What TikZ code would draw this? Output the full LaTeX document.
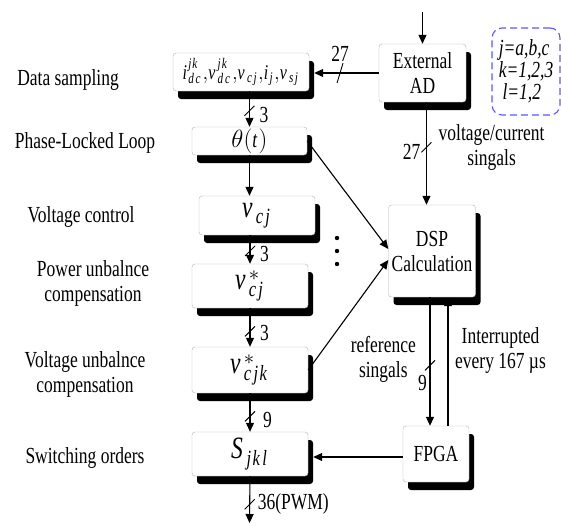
\documentclass[tikz,border=0pt]{standalone}
\usepackage{fontspec}
\setmainfont{Liberation Serif}[FakeStretch=0.76]
\usetikzlibrary{arrows.meta,positioning,calc,shadows}
\tikzset{
  blk/.style={draw=gray!60,fill=white,rectangle,rounded corners=3pt,thin,align=center,inner sep=0pt,
    font=\fontsize{23}{25}\selectfont,
    drop shadow={shadow xshift=5pt,shadow yshift=-8pt,fill=black,opacity=1}},
  bigm/.style={font=\fontsize{31}{34}\selectfont},
  lbl/.style={font=\fontsize{23}{25}\selectfont,align=center,inner sep=0pt},
  num/.style={font=\fontsize{23}{25}\selectfont,inner sep=1pt},
  arr/.style={-{Triangle[length=9pt,width=8pt]},line width=1.1pt},
  cutln/.style={line width=0.9pt},
  legendbox/.style={draw=blue!65,dash pattern=on 7pt off 4pt,rounded corners=10pt,line width=1.1pt,
    minimum width=68pt,minimum height=87pt,align=left,inner sep=0pt,
    font=\fontsize{23}{22}\selectfont\itshape}
}
\newcommand\mi[1]{\mathit{#1}}
% short slash across a vertical bus
\newcommand\vcut[1]{\draw[cutln] (#1) ++(-5,5) -- ++(10,-10);}

\begin{document}
\begin{tikzpicture}[x=1pt,y=-1pt]
  \useasboundingbox (0,0) rectangle (561,525);

  % processing chain
  \node[blk, font=\fontsize{21}{24}\selectfont, minimum width=136pt, minimum height=38pt] (data) at (241,72)
    {$\mi{i}^{\mi{jk}}_{\mi{dc}}{,}\mi{v}^{\mi{jk}}_{\mi{dc}}{,}\mi{v}_{\mi{cj}}{,}\mi{i}_{\mi{j}}{,}\mi{v}_{\mi{sj}}$};
  \node[blk, minimum width=115pt, minimum height=28pt] (theta) at (249.5,141) {$\theta(\mi{t})$};
  \node[blk, bigm, minimum width=116pt, minimum height=39pt] (vcj) at (257,215.5) {$\mi{v}_{\mi{cj}}$};
  \node[blk, bigm, minimum width=116pt, minimum height=44pt] (vcjs) at (250,286) {$\mi{v}^{*}_{\mi{cj}}$};
  \node[blk, bigm, minimum width=116pt, minimum height=46pt] (vcjk) at (250,370) {$\mi{v}^{*}_{\mi{cjk}}$};
  \node[blk, bigm, minimum width=116pt, minimum height=44pt] (sjkl) at (250,454) {$\mi{S}_{\mi{jkl}}$};

  % hardware
  \node[blk, minimum width=87pt, minimum height=58pt] (AD) at (422.5,73) {External\\AD};
  \node[blk, minimum width=87pt, minimum height=92pt] (DSP) at (432,251) {DSP\\Calculation};
  \node[blk, minimum width=66pt, minimum height=56pt] (FPGA) at (436,454) {FPGA};
  \node[legendbox] (legend) at (526,71.5) {j=a,b,c\\k=1,2,3\\\,l=1,2};

  % stage names
  \node[lbl] (l1) at (68,80) {Data sampling};
  \node[lbl] (l2) at (85,143) {Phase-Locked Loop};
  \node[lbl] (l3) at (81,217) {Voltage control};
  \node[lbl] (l4) at (93,283) {Power unbalnce\\compensation};
  \node[lbl] (l5) at (85,374) {Voltage unbalnce\\compensation};
  \node[lbl] (l6) at (85,458) {Switching orders};

  \coordinate (top) at (422.5,12);
  \coordinate (out) at (theta.center |- 0,523);

  % vertical chain
  \draw[arr] (theta.north |- data.south) -- coordinate[pos=.55] (c1) (theta.north);
  \draw[arr] (theta.south) -- (theta.south |- vcj.north);
  \draw[arr] (vcjs.north |- vcj.south) -- coordinate[pos=.55] (c2) (vcjs.north);
  \draw[arr] (vcjs.south) -- coordinate[pos=.6] (c3) (vcjk.north);
  \draw[arr] (vcjk.south) -- coordinate[pos=.6] (c4) (sjkl.north);
  \draw[arr] (sjkl.south) -- coordinate[pos=.6] (c5) (out);
  \vcut{c1} \vcut{c2} \vcut{c3} \vcut{c4} \vcut{c5}
  \node[num, right=9pt of c1, yshift=-4pt] (n1) {3};
  \node[num, right=9pt of c2, yshift=-3pt] (n2) {3};
  \node[num, right=9pt of c3, yshift=-2pt] (n3) {3};
  \node[num, right=12pt of c4, yshift=-4pt] (n4) {9};
  \node[num, right=7pt of c5] (n5) {36(PWM)};

  % AD links
  \draw[arr] (top) -- (AD.north);
  \draw[arr] (AD.west) -- coordinate[pos=.6] (c6) ($(AD.west -| data.east)+(5,0)$);
  \draw[cutln] (c6) ++(-3,10) -- ++(6,-20);
  \node[num, above=10pt of c6] (n6) {27};
  \draw[arr] ([xshift=4pt]AD.south) -- coordinate[pos=.44] (c7) ([xshift=4pt]AD.south |- DSP.north);
  \vcut{c7}
  \node[num, left=5pt of c7, yshift=-5pt] (n7) {27};
  \node[lbl, right=12pt of c7, anchor=west] (vc) {voltage/current\\singals};

  % chain to DSP
  \draw[arr] (theta.east) -- ([yshift=2pt]DSP.west);
  \draw[arr] (vcjk.east) -- ([yshift=-9pt]DSP.west);
  \foreach \dy in {238,251,264}
    \fill (337,\dy) circle (2.2pt);

  % DSP and FPGA
  \draw[arr] ([xshift=-2pt]DSP.south) -- coordinate[pos=.53] (c8) ([xshift=-2pt]DSP.south |- FPGA.north);
  \draw[arr] ([xshift=16pt]DSP.south |- FPGA.north) -- coordinate[pos=.6] (c9) ([xshift=16pt]DSP.south);
  \vcut{c8}
  \node[num, below left=9pt and 2pt of c8] (n8) {9};
  \node[lbl, left=14pt of c8, anchor=east, yshift=6pt] (ref) {reference\\singals};
  \node[lbl, right=7pt of c9, anchor=west, yshift=-2pt] (intr) {Interrupted\\every 167 µs};
  \draw[arr] ([yshift=-3pt]FPGA.west) -- ($([yshift=-3pt]FPGA.west -| sjkl.east)+(5,0)$);
\end{tikzpicture}
\end{document}
